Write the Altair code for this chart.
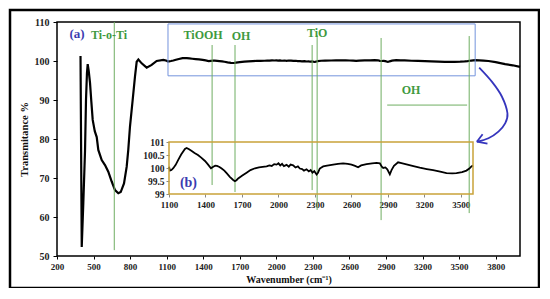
import altair as alt
import pandas as pd

# ---------------- data ----------------
# main spectrum, low-wavenumber part
wn_low = [393, 403, 416, 430, 438, 446, 452, 460, 471, 482, 493, 510, 526, 539, 567, 594, 621,
          649, 676, 703, 723, 750, 772, 785, 799, 821, 840, 854, 868, 895, 936, 977, 1018, 1073]
t_low = [101.3, 52.3, 63.6, 77.0, 90.0, 97.0, 99.2, 97.5, 94.4, 89.5, 84.9, 82.0, 80.5, 77.2, 74.6,
         73.3, 71.6, 69.1, 66.9, 66.1, 66.4, 68.6, 72.9, 77.2, 83.2, 90.0, 96.0, 99.8, 100.4, 99.4,
         98.3, 99.0, 100.0, 100.3]

# expanded region 1100-3600 (inset b)
wn_ins = [1100, 1108, 1120, 1135, 1155, 1176, 1200, 1231, 1245, 1265, 1287, 1310, 1338, 1365, 1396,
          1420, 1445, 1464, 1480, 1495, 1515, 1533, 1555, 1574, 1600, 1628, 1642, 1655, 1669, 1700,
          1738, 1770, 1807, 1840, 1870, 1903, 1925, 1945, 1965, 1985, 2000, 2015, 2030, 2045, 2067,
          2085, 2100, 2121, 2140, 2160, 2176, 2195, 2210, 2231, 2250, 2265, 2280, 2295, 2314, 2325,
          2340, 2368, 2400, 2450, 2490, 2532, 2570, 2601, 2630, 2655, 2680, 2725, 2770, 2807, 2834,
          2850, 2862, 2880, 2895, 2916, 2930, 2950, 2984, 3020, 3053, 3110, 3162, 3220, 3272, 3330,
          3382, 3430, 3464, 3510, 3546, 3570, 3587, 3600]
t_ins = [100.05, 99.90, 99.92, 99.99, 100.12, 100.31, 100.52, 100.73, 100.77, 100.72, 100.65, 100.58,
         100.50, 100.40, 100.27, 100.14, 99.99, 100.05, 100.09, 100.08, 100.04, 99.98, 99.90, 99.80,
         99.66, 99.54, 99.49, 99.53, 99.60, 99.70, 99.82, 99.92, 99.99, 100.02, 100.04, 100.06, 100.10,
         100.08, 100.15, 100.13, 100.18, 100.10, 100.16, 100.07, 100.12, 100.05, 100.13, 100.10, 100.02,
         100.06, 99.98, 99.96, 99.90, 99.95, 99.87, 99.92, 99.82, 99.88, 99.75, 99.82, 99.98, 100.06,
         100.09, 100.13, 100.16, 100.18, 100.16, 100.13, 100.08, 100.03, 100.10, 100.15, 100.18, 100.20,
         100.18, 100.05, 100.00, 100.02, 99.95, 99.76, 99.92, 100.08, 100.22, 100.18, 100.14, 100.07,
         100.01, 99.96, 99.92, 99.86, 99.80, 99.79, 99.80, 99.84, 99.90, 99.98, 100.06, 100.10]

# tail 3600-4000
wn_tail = [3632, 3700, 3741, 3800, 3878, 3940, 4000]
t_tail = [100.2, 100.1, 100.0, 99.7, 99.2, 98.9, 98.5]

x_ticks = [200, 500, 800, 1100, 1400, 1700, 2000, 2300, 2600, 2900, 3200, 3500, 3800]
y_ticks = [50, 60, 70, 80, 90, 100, 110]
xi_ticks = [1100, 1400, 1700, 2000, 2300, 2600, 2900, 3200, 3500]
yi_ticks = [99, 99.5, 100, 100.5, 101]

# green assignment lines (wavenumber, top, bottom)
line_x = [670, 1473, 1661, 2294, 2335, 2860, 3583]
line_top = [110, 104.1, 104.1, 104.1, 106.6, 105.9, 106.4]
line_bot = [51.5, 68.2, 66.4, 66.9, 61.8, 59.2, 61.0]

green_labels = ["Ti-o-Ti", "TiOOH", "OH", "TiO", "OH"]
green_lx = [627, 1399, 1711, 2335, 3106]
green_ly = [106.7, 106.7, 106.4, 107.2, 92.6]

# arrow path
arrow_x = [3665, 3769, 3851, 3897, 3878, 3823, 3741, 3646]
arrow_y = [98.3, 94.7, 90.9, 86.6, 84.0, 81.9, 80.2, 79.3]

GREEN_LINE = "#6fae62"
GREEN_TEXT = "#3f9a3f"
BLUE_TXT = "#3b3bb0"
GOLD = "#c9a23a"
SERIF = "Liberation Serif"

main_df = pd.DataFrame({"wn": wn_low + wn_ins + wn_tail, "t": t_low + t_ins + t_tail})
ins_df = pd.DataFrame({"wn": wn_ins, "t": t_ins})
lines_df = pd.DataFrame({"x": line_x, "y1": line_top, "y2": line_bot})
glab_df = pd.DataFrame({"label": green_labels, "x": green_lx, "y": green_ly})
arrow_df = pd.DataFrame({"x": arrow_x, "y": arrow_y, "o": list(range(len(arrow_x)))})

X_MAIN = alt.Scale(domain=[200, 4000], nice=False, zero=False)
Y_MAIN = alt.Scale(domain=[50, 110], nice=False, zero=False)
X_INS = alt.Scale(domain=[1100, 3600], range=[112, 416], nice=False, zero=False)
Y_INS = alt.Scale(domain=[99, 101], range=[172, 120], nice=False, zero=False)


def xm(field):
    return alt.X(field, type="quantitative", scale=X_MAIN, axis=None)


def ym(field):
    return alt.Y(field, type="quantitative", scale=Y_MAIN, axis=None)


def xi(field):
    return alt.X(field, type="quantitative", scale=X_INS, axis=None)


def yi(field):
    return alt.Y(field, type="quantitative", scale=Y_INS, axis=None)


curve = alt.Chart(main_df).mark_line(color="black", strokeWidth=2.2).encode(
    x=alt.X("wn:Q", scale=X_MAIN, axis=alt.Axis(
        values=x_ticks, format="d", labelOverlap=False, labelFlush=False,
        title="Wavenumber  (cm⁻¹)", orient="bottom", grid=False, domain=False,
        tickColor="black", tickSize=3, labelFont=SERIF, labelFontWeight="bold",
        labelFontSize=9, labelColor="#222", labelPadding=3, titleFont=SERIF,
        titleFontWeight="bold", titleFontSize=10, titleColor="#111", titlePadding=3)),
    y=alt.Y("t:Q", scale=Y_MAIN, axis=alt.Axis(
        values=y_ticks, format="d", labelOverlap=False, labelFlush=False,
        title="Transmitance %", orient="left", grid=False, domain=False,
        tickColor="black", tickSize=4, labelFont=SERIF, labelFontWeight="bold",
        labelFontSize=10, labelColor="#222", labelPadding=4, titleFont=SERIF,
        titleFontWeight="bold", titleFontSize=10.5, titleColor="#111", titlePadding=5)),
)

rules = alt.Chart(lines_df).mark_rule(color=GREEN_LINE, strokeWidth=1).encode(
    x=xm("x"), y=ym("y1"), y2="y2")

oh_line = alt.Chart(pd.DataFrame({"a": [2910], "b": [3566], "y": [88.7]})).mark_rule(
    color=GREEN_LINE, strokeWidth=1).encode(x=xm("a"), x2="b", y=ym("y"))

blue_box = alt.Chart(pd.DataFrame({"a": [1111], "b": [3632], "c": [109.5], "d": [96.2]})).mark_rect(
    fillOpacity=0, stroke="#7393dd", strokeWidth=1).encode(x=xm("a"), x2="b", y=ym("c"), y2="d")

glabels = alt.Chart(glab_df).mark_text(
    font=SERIF, fontWeight="bold", fontSize=12, color=GREEN_TEXT).encode(
    x=xm("x"), y=ym("y"), text="label:N")

a_label = alt.Chart(pd.DataFrame({"x": [364], "y": [106.9], "s": ["(a)"]})).mark_text(
    font=SERIF, fontWeight="bold", fontSize=13, color=BLUE_TXT).encode(
    x=xm("x"), y=ym("y"), text="s:N")

arrow = alt.Chart(arrow_df).mark_line(color="#3535bd", strokeWidth=1.8, interpolate="cardinal").encode(
    x=xm("x"), y=ym("y"), order="o:Q")

head_df = pd.DataFrame({"x": [3646, 3646], "y": [79.3, 79.3], "x2": [3693, 3733], "y2": [81.2, 78.8]})
arrow_head = alt.Chart(head_df).mark_rule(color="#3535bd", strokeWidth=1.8).encode(
    x=xm("x"), y=ym("y"), x2="x2", y2="y2")

frame = alt.Chart(pd.DataFrame({"k": [0]})).mark_rect(
    fillOpacity=0, stroke="black", strokeWidth=2.5).encode(
    x=alt.value(-47), x2=alt.value(482), y=alt.value(-12), y2=alt.value(266))

main_layer = alt.layer(curve, frame, blue_box, rules, oh_line, glabels, a_label, arrow,
                       arrow_head).resolve_axis(x="independent", y="independent")

# ---------------- inset ----------------
ins_curve = alt.Chart(ins_df).mark_line(color="black", strokeWidth=1.8).encode(
    x=alt.X("wn:Q", scale=X_INS, axis=alt.Axis(
        values=xi_ticks, format="d", labelOverlap=False, labelFlush=False, orient="bottom",
        offset=-62, title=None, grid=False, domain=False,
        tickColor="#888", tickSize=3, labelFont=SERIF, labelFontWeight="bold",
        labelFontSize=9, labelColor="#222", labelPadding=3)),
    y=alt.Y("t:Q", scale=Y_INS, axis=alt.Axis(
        values=yi_ticks, format="~f", labelOverlap=False, labelFlush=False, orient="left",
        offset=-112, title=None, grid=False, domain=False,
        tickColor="#888", tickSize=3, labelFont=SERIF, labelFontWeight="bold",
        labelFontSize=9.5, labelColor="#222", labelPadding=2)),
)

ins_frame = alt.Chart(pd.DataFrame({"a": [1100], "b": [3600], "c": [99], "d": [101]})).mark_rect(
    fillOpacity=0, stroke=GOLD, strokeWidth=1.5).encode(
    x=xi("a"), x2="b", y=yi("c"), y2="d")

b_label = alt.Chart(pd.DataFrame({"x": [1260], "y": [99.42], "s": ["(b)"]})).mark_text(
    font=SERIF, fontWeight="bold", fontSize=14, color=BLUE_TXT).encode(
    x=xi("x"), y=yi("y"), text="s:N")

inset_layer = alt.layer(ins_curve, ins_frame, b_label).resolve_axis(x="independent", y="independent")

chart = alt.layer(main_layer, inset_layer).resolve_scale(
    x="independent", y="independent").properties(
    width=463, height=234,
    autosize=alt.AutoSizeParams(type="none"),
    padding={"left": 49, "top": 14, "right": 20, "bottom": 32},
    background="white",
).configure_view(stroke="black", strokeWidth=1.5)

chart.save("out.html", embed_options={"renderer": "svg", "actions": False})
